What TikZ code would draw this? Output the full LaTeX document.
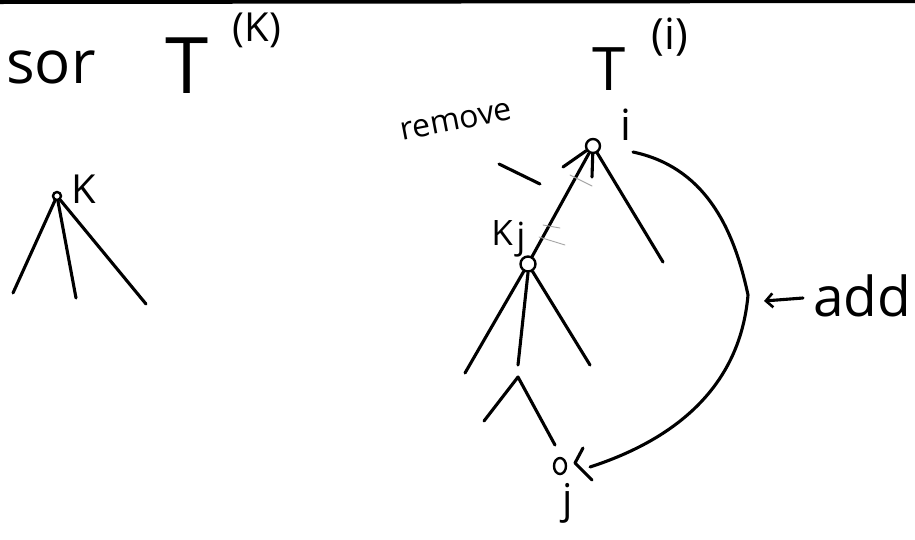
\documentclass[tikz,border=0pt]{standalone}
\usepackage{fontspec}
\setmainfont{Open Sans}
\usetikzlibrary{arrows.meta,shapes.geometric}
\tikzset{
  pen/.style={line width=3.1pt, line cap=round, line join=round},
  faint/.style={line width=0.9pt, draw=black!35, line cap=round},
  vtx/.style={circle, draw, line width=2.4pt, inner sep=0pt},
  hand/.style={inner sep=0pt, anchor=base},
}
\newcommand{\fs}[1]{\fontsize{#1}{#1}\selectfont}
\begin{document}
\begin{tikzpicture}[x=1pt,y=-1pt]
\useasboundingbox (0,0) rectangle (915,539);
\fill[white] (0,0) rectangle (915,539);
% top border
\coordinate (bl) at (0,2);
\coordinate (br) at (915,1);
\draw[line width=4pt] (bl) -- (br);

% titles
\node[hand, anchor=base west, font=\fs{60}] (sor) at (6,83) {sor};
\node[hand, font=\fs{78}] (TK) at (187,93) {T};
\node[hand, font=\fs{40}] (TKsup) at (257,41) {(K)};
\node[hand, font=\fs{60}] (Ti) at (609,90) {T};
\node[hand, font=\fs{43}] (Tisup) at (670,49) {(i)};

% left tree
\node[vtx, minimum size=8pt] (k) at (57,196) {};
\node[hand, font=\fs{40}] (klab) at (84,203) {K};
\coordinate (k1) at (13,293);
\coordinate (k2) at (76,298);
\coordinate (k3) at (146,304);
\draw[pen] (k) -- (k1);
\draw[pen] (k) -- (k2);
\draw[pen] (k) -- (k3);

% right tree
\node[vtx, minimum size=14pt] (i) at (593,146) {};
\node[hand, font=\fs{43}] (ilab) at (626,140) {i};
\node[vtx, minimum size=15pt] (kj) at (528,264) {};
\node[hand, font=\fs{35}] (kjlab) at (502,245) {K};
\node[hand, font=\fs{36}] (kjsub) at (521,248) {j};
\coordinate (iR) at (663,262);
\coordinate (iM) at (592,177);
\coordinate (iT) at (563,167);
\draw[pen] (i) -- (iR);
\draw[pen] (i) -- (iM);
\draw[pen] (i) -- (iT);
\draw[pen] (i) -- (kj);

\coordinate (kjL) at (465,373);
\coordinate (kjM) at (518,365);
\coordinate (kjR) at (590,365);
\draw[pen] (kj) -- (kjL);
\draw[pen] (kj.south) -- (kjM);
\draw[pen] (kj) -- (kjR);

\coordinate (wL) at (484,421);
\coordinate (wT) at (518,377);
\coordinate (wR) at (555,445);
\draw[pen] (wL) -- (wT) -- (wR);

\node[ellipse, draw, line width=2.4pt, inner sep=0pt, minimum width=12pt, minimum height=16pt] (j) at (560,466) {};
\node[hand, font=\fs{41}] (jlab) at (568,513) {j};

% remove
\node[hand, font=\fs{32}, rotate=11] (remove) at (458,130) {remove};
\coordinate (rmA) at (499,164);
\coordinate (rmB) at (540,184);
\draw[pen] (rmA) -- (rmB);
\coordinate (f1a) at (570,175); \coordinate (f1b) at (592,186);
\coordinate (f2a) at (543,225); \coordinate (f2b) at (560,228);
\coordinate (f3a) at (539,237); \coordinate (f3b) at (565,245);
\draw[faint] (f1a) -- (f1b);
\draw[faint] (f2a) -- (f2b);
\draw[faint] (f3a) -- (f3b);

% add curve
\coordinate (addA) at (633,152);
\coordinate (addK) at (748,295);
\coordinate (addB) at (590,467);
\draw[pen] (addA) to[out=-12,in=102] (addK) to[out=-95,in=18] (addB);
\coordinate (hA) at (583,448);
\coordinate (hT) at (575,463);
\coordinate (hB) at (592,480);
\draw[pen] (hA) -- (hT) -- (hB);

% add label
\coordinate (arrT) at (803,298);
\coordinate (arrH) at (764,301);
\draw[pen, -{Straight Barb[length=7pt,width=14pt,line width=2.6pt]}] (arrT) -- (arrH);
\node[hand, font=\fs{55}] (add) at (862,316) {add};
\end{tikzpicture}
\end{document}
